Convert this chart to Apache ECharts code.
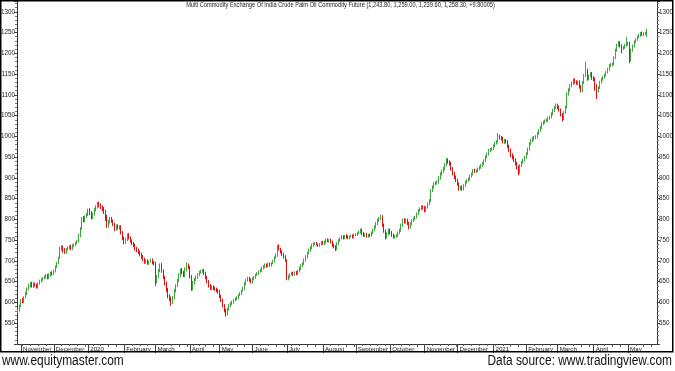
<!DOCTYPE html>
<html><head><meta charset="utf-8">
<script src="https://cdn.jsdelivr.net/npm/echarts@6/dist/echarts.min.js"></script>
<style>html,body{margin:0;padding:0;background:#fff}#c{width:675px;height:371px}</style>
</head><body><div id="c"></div>
<script>
// ---- data (daily candles, MCX Crude Palm Oil) ----
const firstDate = '2019-10-30';
const holidays = ['2020-04-02', '2020-04-10', '2020-04-14'];
const monthNames = ['November','December','2020','February','March','April','May','June','July','August','September','October','November','December','2021','February','March','April','May'];
const yTicks = {min: 500, max: 1326, step: 50};
const titleText = 'Multi Commodity Exchange Of India Crude Palm Oil Commodity Future (1,243.80, 1,259.00, 1,239.60, 1,258.30, +9.80005)';
const footLeft = 'www.equitymaster.com';
const footRight = 'Data source: www.tradingview.com';

const opens = [
578,581,592,606,602,613,621,634,640,646,
639,645,642,637,646,651,656,659,661,666,
659,666,672,669,675,687,695,708,729,734,
727,721,729,731,736,729,737,739,743,747,
761,779,803,797,807,811,823,816,805,813,
823,829,839,835,831,827,819,808,785,794,
803,797,789,777,785,779,783,769,756,745,
751,763,756,749,743,739,731,727,721,717,
711,705,697,701,695,699,703,697,695,651,
663,677,691,677,661,647,631,616,610,600,
611,628,641,652,665,679,673,665,679,691,
685,663,633,647,656,661,667,673,675,677,
671,661,651,641,633,638,635,633,630,627,
616,606,593,582,572,583,592,598,600,606,
608,611,618,621,629,633,644,654,659,655,
649,657,660,667,669,675,677,683,685,691,
687,693,689,695,699,708,713,735,729,723,
717,711,701,657,661,668,671,667,673,669,
675,681,689,693,701,709,719,725,731,737,
741,743,739,737,741,745,741,745,751,747,
751,746,739,735,729,741,749,755,759,755,
761,759,755,759,761,757,763,763,767,769,
775,767,761,765,759,763,761,767,774,781,
789,797,801,807,787,773,757,765,775,769,
763,757,759,761,767,773,785,799,794,799,
791,781,789,797,801,805,813,821,825,831,
829,821,829,837,845,869,877,885,887,889,
899,909,915,921,931,944,939,936,923,911,
903,895,886,873,879,873,881,889,893,897,
904,909,919,915,917,921,925,929,934,941,
950,957,966,969,970,977,983,986,1000,998,
996,986,991,988,977,968,956,951,944,936,
927,913,929,937,942,949,958,969,982,989,
994,997,998,1007,1014,1021,1030,1034,1037,1038,
1043,1046,1054,1062,1069,1076,1071,1064,1053,1042,
1057,1070,1102,1111,1122,1127,1136,1132,1127,1132,
1121,1110,1129,1146,1160,1138,1145,1151,1141,1139,
1123,1109,1117,1130,1137,1142,1147,1154,1161,1170,
1172,1174,1189,1207,1219,1225,1219,1211,1214,1219,
1221,1225,1183,1207,1217,1227,1233,1239,1243,1249,
1245,1247,1243.8];

const closes = [
580,592,605,603,612,622,633,641,645,640,
644,641,638,645,652,655,658,662,665,660,
667,670,668,676,686,694,706,730,733,726,
722,728,731,734,730,736,738,742,746,762,
778,802,798,806,812,822,815,806,812,824,
830,838,834,830,826,818,810,786,795,802,
796,788,778,784,780,782,768,755,746,752,
762,755,748,742,738,730,726,722,716,710,
704,698,700,696,698,702,696,694,650,662,
678,690,676,660,646,630,615,609,601,612,
629,640,653,666,678,672,666,680,690,684,
662,634,648,655,662,668,672,674,676,670,
660,650,640,634,637,634,632,629,626,615,
605,592,581,573,584,593,597,601,605,609,
612,617,622,628,634,645,653,658,654,650,
656,661,666,670,674,678,682,686,690,688,
692,690,694,700,707,714,734,728,722,716,
710,702,658,662,667,670,668,672,670,676,
682,688,694,702,710,718,726,732,738,740,
742,740,738,740,744,742,746,750,748,750,
745,738,734,730,742,750,754,758,756,760,
758,756,758,760,758,762,764,766,770,774,
766,762,764,760,762,762,768,775,782,790,
798,802,806,786,772,758,766,774,768,762,
758,760,762,768,774,786,798,795,798,790,
782,790,798,802,806,814,822,826,830,828,
822,830,838,846,870,878,886,888,890,900,
910,916,922,932,943,938,935,922,910,902,
894,885,874,878,874,882,890,894,898,905,
910,918,916,918,922,926,930,935,942,951,
958,967,968,971,978,984,987,999,997,995,
987,990,987,976,967,955,950,943,935,926,
914,930,938,943,950,959,970,983,990,995,
998,999,1008,1015,1022,1031,1035,1038,1039,1044,
1047,1055,1063,1070,1075,1070,1063,1052,1043,1058,
1071,1103,1112,1123,1128,1135,1131,1128,1131,1120,
1111,1130,1147,1159,1139,1146,1150,1140,1138,1122,
1110,1118,1131,1138,1143,1148,1155,1162,1171,1173,
1175,1190,1208,1220,1224,1218,1212,1215,1220,1222,
1224,1184,1208,1218,1228,1234,1240,1244,1248,1246,
1248,1249,1258.3];

const highs = [
584,595,608,611,615,626,636,645,649,650,
648,648,645,648,655,658,661,665,668,669,
670,674,675,679,689,698,710,734,738,737,
731,731,735,738,739,740,742,746,750,766,
781,806,808,810,816,826,827,820,816,828,
834,842,843,839,834,830,823,811,799,806,
806,800,792,788,788,786,786,772,759,756,
766,767,759,752,746,742,734,730,725,720,
714,708,704,704,701,706,706,700,698,666,
681,694,695,680,664,650,635,620,614,616,
633,644,657,670,682,683,676,684,697,694,
688,666,652,659,665,671,676,679,680,681,
674,664,654,644,641,641,638,636,633,630,
619,609,596,585,587,596,601,604,608,612,
615,620,625,631,638,649,657,662,662,658,
660,664,669,673,677,681,686,690,694,694,
696,696,697,703,711,718,738,740,732,726,
720,714,704,666,670,674,674,675,676,679,
686,692,697,706,714,722,730,736,742,744,
746,746,742,743,748,748,749,754,754,753,
754,749,742,738,745,753,757,762,762,763,
764,762,761,763,764,765,767,769,773,778,
778,770,767,768,765,766,771,778,786,794,
802,806,812,810,790,776,769,778,778,772,
766,763,765,771,777,790,802,803,802,802,
794,793,801,805,809,817,825,829,834,834,
832,833,841,849,873,882,890,892,894,904,
914,920,926,936,948,947,942,939,926,914,
906,898,889,881,882,885,893,897,901,908,
913,921,922,921,925,929,933,938,945,954,
961,970,972,974,981,987,991,1008,1004,1001,
999,993,994,991,980,971,959,954,947,939,
930,933,941,946,953,962,973,986,994,999,
1001,1003,1011,1018,1025,1034,1038,1041,1043,1047,
1050,1058,1066,1073,1079,1079,1074,1067,1056,1061,
1074,1106,1116,1126,1132,1139,1140,1135,1134,1135,
1124,1133,1150,1180,1163,1149,1154,1155,1145,1142,
1126,1121,1134,1141,1146,1151,1158,1165,1174,1177,
1178,1193,1211,1223,1230,1229,1222,1218,1223,1240,
1228,1228,1211,1221,1231,1237,1243,1247,1251,1252,
1251,1252,1259];

const lows = [
574,578,589,598,599,610,618,630,636,636,
635,638,634,633,643,648,652,656,658,656,
656,662,665,666,672,683,692,705,725,720,
717,717,725,728,726,726,733,736,740,744,
757,775,793,793,803,808,810,800,801,809,
819,826,829,825,820,813,796,780,780,790,
792,784,772,773,776,775,764,750,740,741,
748,752,744,738,733,725,721,717,711,705,
700,693,694,691,691,696,692,689,640,646,
659,673,672,656,641,625,610,603,592,596,
607,624,637,649,661,668,661,661,675,680,
658,628,629,643,652,657,663,669,671,666,
656,646,636,630,630,630,628,625,621,611,
601,588,576,566,569,580,589,594,597,603,
605,608,615,618,626,630,641,650,650,646,
645,653,657,664,666,672,674,680,682,684,
684,686,686,692,696,705,710,725,718,712,
706,698,654,653,658,665,664,664,666,666,
672,678,685,690,698,706,716,722,728,734,
738,737,734,734,738,739,738,742,745,744,
742,734,730,724,726,738,746,752,752,752,
754,752,752,756,754,754,760,760,764,766,
762,758,758,756,756,758,758,764,771,778,
786,794,798,782,768,752,754,762,764,758,
754,754,756,758,764,770,782,790,790,786,
776,778,786,794,798,802,810,818,822,824,
817,818,826,834,842,866,874,882,884,886,
896,906,912,918,928,934,930,918,906,897,
890,881,869,870,869,870,878,886,890,894,
901,906,912,912,914,918,922,926,931,938,
947,954,962,965,967,974,980,983,992,990,
983,982,983,972,962,950,945,938,930,920,
906,910,926,934,939,946,955,966,979,986,
990,993,995,1004,1011,1018,1027,1031,1034,1035,
1040,1043,1051,1059,1066,1066,1060,1048,1036,1039,
1054,1067,1098,1108,1118,1124,1127,1124,1124,1115,
1106,1107,1126,1143,1134,1135,1142,1136,1133,1110,
1090,1106,1114,1127,1134,1139,1144,1151,1158,1167,
1169,1171,1186,1204,1216,1214,1200,1208,1211,1216,
1218,1176,1180,1204,1214,1224,1230,1236,1240,1242,
1241,1244,1239.6];

// ---- trading-day categories (weekdays minus holidays), a few empty slots at the end ----
const cats = [];
(function () {
  const d = new Date(firstDate + 'T00:00:00Z');
  const total = closes.length + 6;
  while (cats.length < total) {
    const wd = d.getUTCDay();
    const s = d.toISOString().slice(0, 10);
    if (wd !== 0 && wd !== 6 && holidays.indexOf(s) < 0) cats.push(s);
    d.setUTCDate(d.getUTCDate() + 1);
  }
})();
const monthStart = {};
const weekStart = {};
(function () {
  let mi = 0;
  for (let k = 1; k < cats.length; k++) {
    if (cats[k].slice(0, 7) !== cats[k - 1].slice(0, 7) && mi < monthNames.length) monthStart[k] = monthNames[mi++];
    const a = new Date(cats[k] + 'T00:00:00Z').getUTCDay();
    const b = new Date(cats[k - 1] + 'T00:00:00Z').getUTCDay();
    if (a < b) weekStart[k] = true;
  }
})();

const candles = closes.map((c, k) => [opens[k], c, lows[k], highs[k]]);

const F = "'Liberation Sans', Arial, sans-serif";

const yAxisBase = (pos) => ({
  type: 'value', position: pos, min: yTicks.min, max: yTicks.max, interval: yTicks.step,
  splitLine: {show: false},
  axisLine: {show: true, lineStyle: {color: '#333', width: 1}},
  axisTick: {show: true, length: 3, lineStyle: {color: '#444'}},
  minorTick: {show: true, splitNumber: 5, length: 2, lineStyle: {color: '#777'}},
  axisLabel: {show: true, showMinLabel: false, showMaxLabel: false, margin: 2, fontSize: 6.3, fontFamily: F, color: '#222',
    formatter: (v) => String(v)}
});

const chart = echarts.init(document.getElementById('c'), null, {renderer: 'canvas'});
chart.setOption({
  animation: false,
  backgroundColor: '#fff',
  grid: {left: 17, right: 18, top: 1, bottom: 27, containLabel: false, outerBoundsMode: 'none'},
  xAxis: [{
    type: 'category', data: cats, boundaryGap: true,
    axisLine: {show: true, lineStyle: {color: '#333', width: 1}},
    axisTick: {show: true, alignWithLabel: true, interval: (i) => !!weekStart[i], length: 3, lineStyle: {color: '#555'}},
    axisLabel: {show: true, interval: (i) => monthStart[i] !== undefined, formatter: (v, i) => monthStart[i] || '',
      showMinLabel: true, showMaxLabel: true, hideOverlap: false,
      align: 'left', margin: 2, fontSize: 6.2, fontFamily: F, color: '#222', backgroundColor: '#fff', padding: [0, 1, 0, 2]},
    splitLine: {show: false}
  }, {
    type: 'category', data: cats, gridIndex: 0, position: 'bottom', z: 5, boundaryGap: true,
    axisLine: {show: false}, axisLabel: {show: false}, splitLine: {show: false},
    axisTick: {show: true, alignWithLabel: true, interval: (i) => monthStart[i] !== undefined, length: 9, lineStyle: {color: '#444'}}
  }],
  yAxis: [yAxisBase('left'), yAxisBase('right')],
  series: [{
    type: 'candlestick', xAxisIndex: 0, yAxisIndex: 0, data: candles, barWidth: '75%',
    itemStyle: {color: '#8fd68f', color0: '#e00000', borderColor: '#3fa53f', borderColor0: '#e01010', borderWidth: 1}
  }],
  graphic: [
    {type: 'rect', shape: {x: 0.75, y: 0.75, width: 672, height: 351}, style: {fill: null, stroke: '#000', lineWidth: 1.5}, z: 100},
    {type: 'text', x: 340.5, y: 5, scaleX: 0.86, style: {text: titleText, font: "6.6px " + F, fill: '#222', textAlign: 'center', textVerticalAlign: 'middle'}, z: 100},
    {type: 'text', x: 2, y: 361, scaleX: 0.85, style: {text: footLeft, font: "14px " + F, fill: '#111', textAlign: 'left', textVerticalAlign: 'middle'}, z: 100},
    {type: 'text', x: 672, y: 361, scaleX: 0.85, style: {text: footRight, font: "14px " + F, fill: '#111', textAlign: 'right', textVerticalAlign: 'middle'}, z: 100}
  ]
});
</script>
</body></html>
